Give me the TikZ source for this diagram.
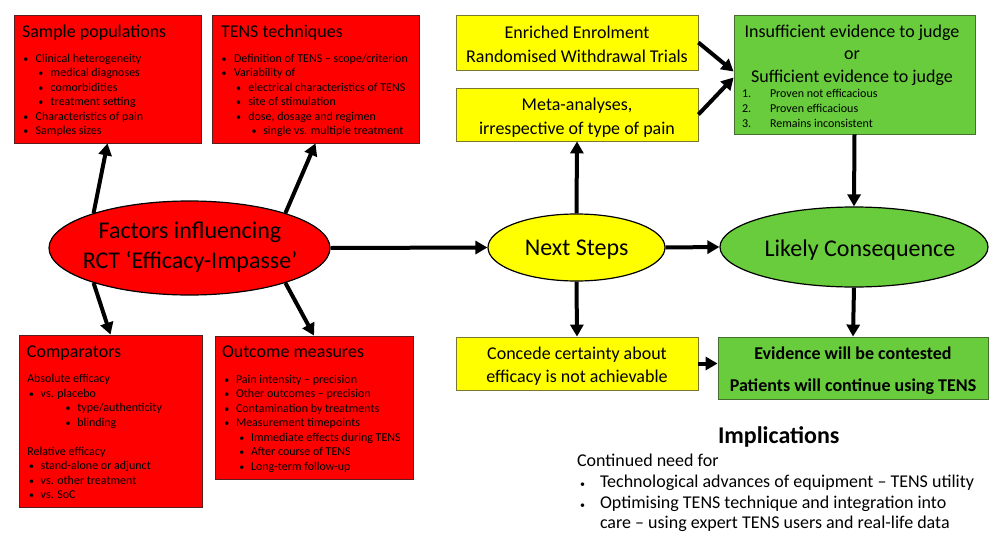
\documentclass[tikz,border=0pt]{standalone}
\usepackage{fontspec}
\setmainfont{Carlito}
\usetikzlibrary{arrows.meta,shapes.geometric,fit}
\definecolor{rd}{RGB}{255,0,0}
\definecolor{yl}{RGB}{255,255,0}
\definecolor{gr}{RGB}{104,204,60}
\definecolor{rdb}{RGB}{90,30,30}
\definecolor{ylb}{RGB}{120,120,50}
\definecolor{grb}{RGB}{70,110,50}
\newcommand\fT{\fontsize{18}{21}\selectfont}
\newcommand\fS{\fontsize{12}{14}\selectfont}
\newcommand\fE{\fontsize{24}{28}\selectfont}
\newcommand\fI{\fontsize{24}{28}\selectfont\bfseries}
% text line: name, x, y, text (base west)
\newcommand\tl[4]{\node[txt,anchor=base west] (#1) at (#2,#3) {#4};}
% centred text line: name, x, y, text
\newcommand\tcl[4]{\node[txt,anchor=base] (#1) at (#2,#3) {#4};}
% bullet line: name, x, gap, y, text
\newcommand\bl[5]{\node[txt,anchor=base west] (#1) at (#2,#4) {\makebox[#3pt][l]{\textbullet}#5};}
\begin{document}
\begin{tikzpicture}[x=1pt,y=-1pt,
  txt/.style={inner sep=0pt,outer sep=0pt},
  rbox/.style={draw=rdb,fill=rd,line width=0.8pt,inner sep=0pt},
  ybox/.style={draw=ylb,fill=yl,line width=0.8pt,inner sep=0pt},
  gbox/.style={draw=grb,fill=gr,line width=0.8pt,inner sep=0pt},
  ell/.style={ellipse,draw=black,line width=1.2pt,inner sep=0pt},
  arr/.style={line width=4pt,-{Triangle[width=13pt,length=12pt]}}]
\useasboundingbox (0,0) rectangle (989,533);
\fill[white] (0,0) rectangle (989,533);

% ---------- red boxes ----------
\node[rbox,fit={(14,15) (201,143)}] (S) {};
\node[rbox,fit={(212,15) (419,143)}] (T) {};
\node[rbox,fit={(19,335) (202,507)}] (C) {};
\node[rbox,fit={(215,336) (413,479)}] (O) {};

% Sample populations
\tl{s0}{22}{37}{\fT Sample populations}
\bl{s1}{23.3}{12.4}{62.3}{\fS Clinical heterogeneity}
\bl{s2}{38.3}{12.4}{76.8}{\fS medical diagnoses}
\bl{s3}{38.3}{12.4}{91.3}{\fS comorbidities}
\bl{s4}{38.3}{12.4}{105.8}{\fS treatment setting}
\bl{s5}{23.3}{12.4}{120.3}{\fS Characteristics of pain}
\bl{s6}{23.3}{12.4}{134.8}{\fS Samples sizes}

% TENS techniques
\tl{t0}{221}{37}{\fT TENS techniques}
\bl{t1}{221.7}{12.3}{62.3}{\fS Definition of TENS -- scope/criterion}
\bl{t2}{221.7}{12.3}{76.8}{\fS Variability of}
\bl{t3}{236}{12.3}{91.3}{\fS electrical characteristics of TENS}
\bl{t4}{236}{12.3}{105.8}{\fS site of stimulation}
\bl{t5}{236}{12.3}{120.3}{\fS dose, dosage and regimen}
\bl{t6}{251.7}{11.6}{134.8}{\fS single vs. multiple treatment}

% Comparators
\tl{c0}{27}{357}{\fT Comparators}
\tl{c1}{27.3}{382.7}{\fS Absolute efficacy}
\bl{c2}{29}{11.7}{397.2}{\fS vs. placebo}
\bl{c3}{65.7}{11.6}{411.7}{\fS type/authenticity}
\bl{c4}{65.7}{11.6}{426.2}{\fS blinding}
\tl{c5}{27.3}{455.2}{\fS Relative efficacy}
\bl{c6}{29}{11.7}{469.7}{\fS stand-alone or adjunct}
\bl{c7}{29}{11.7}{484.2}{\fS vs. other treatment}
\bl{c8}{29}{11.7}{498.7}{\fS vs. SoC}

% Outcome measures
\tl{o0}{222}{357.3}{\fT Outcome measures}
\bl{o1}{224.3}{11.7}{383.3}{\fS Pain intensity -- precision}
\bl{o2}{224.3}{11.7}{397.8}{\fS Other outcomes -- precision}
\bl{o3}{224.3}{11.7}{412.3}{\fS Contamination by treatments}
\bl{o4}{224.3}{11.7}{426.8}{\fS Measurement timepoints}
\bl{o5}{239.3}{11.7}{441.3}{\fS Immediate effects during TENS}
\bl{o6}{239.3}{11.7}{455.8}{\fS After course of TENS}
\bl{o7}{239.3}{11.7}{470.3}{\fS Long-term follow-up}

% ---------- yellow boxes ----------
\node[ybox,fit={(456,15) (698,70)}] (E) {};
\node[ybox,fit={(456,88) (698,141)}] (M) {};
\node[ybox,fit={(456,337) (698,390)}] (K) {};
\tcl{e1}{577}{38}{\fT Enriched Enrolment}
\tcl{e2}{577}{62}{\fT Randomised Withdrawal Trials}
\tcl{m1}{577}{110}{\fT Meta-analyses,}
\tcl{m2}{577}{134}{\fT irrespective of type of pain}
\tcl{k1}{577}{359}{\fT Concede certainty about}
\tcl{k2}{577}{382}{\fT efficacy is not achievable}

% ---------- green boxes ----------
\node[gbox,fit={(734,15) (975,134)}] (G) {};
\node[gbox,fit={(718,337) (988,399)}] (H) {};
\tcl{g1}{852}{37}{\fT Insufficient evidence to judge}
\tcl{g2}{852}{59}{\fT or}
\tcl{g3}{852}{82}{\fT Sufficient evidence to judge}
\tl{g4}{742}{97}{\fS \makebox[28pt][l]{1.}Proven not efficacious}
\tl{g5}{742}{112}{\fS \makebox[28pt][l]{2.}Proven efficacious}
\tl{g6}{742}{127}{\fS \makebox[28pt][l]{3.}Remains inconsistent}
\tcl{h1}{853}{359}{\fT\bfseries Evidence will be contested}
\tcl{h2}{853}{391}{\fT\bfseries Patients will continue using TENS}

% ---------- ellipses ----------
\node[ell,fill=rd,minimum width=281pt,minimum height=94pt] (F) at (189.5,248) {};
\node[ell,fill=yl,minimum width=177pt,minimum height=67pt] (N) at (576.5,247.5) {};
\node[ell,fill=gr,minimum width=268pt,minimum height=80pt] (L) at (854,247) {};
\tcl{f1}{190}{238.3}{\fE Factors influencing}
\tcl{f2}{190}{268.3}{\fE RCT `Efficacy-Impasse'}
\tcl{n1}{576.7}{255}{\fE Next Steps}
\tcl{l1}{860}{256}{\fE Likely Consequence}

% ---------- connectors ----------
\draw[arr] (F.160) -- (S.south);
\draw[arr] (F.20) -- (T.south);
\draw[arr] (F.200) -- (C.north);
\draw[arr] (F.340) -- (O.north);
\draw[arr] (F.east) -- (N.west);
\draw[arr] (N.north) -- (M.south);
\draw[arr] (N.south) -- (K.north);
\draw[arr] (N.east) -- (L.west);
\draw[arr] (G.south) -- (L.north);
\draw[arr] (L.south) -- (H.north);
\draw[arr] (K.east) -- (K.east -| H.west);
\coordinate (GinA) at ([yshift=3pt]G.west);
\coordinate (GinB) at ([yshift=-3pt]G.west);
\draw[arr] (E.east) -- (GinA);
\draw[arr] (M.east) -- (GinB);

% ---------- implications ----------
\tl{i0}{718}{443}{\fI Implications}
\tl{i1}{577}{466}{\fT Continued need for}
\bl{i2}{580}{20}{487.5}{\fT Technological advances of equipment -- TENS utility}
\bl{i3}{580}{20}{508}{\fT Optimising TENS technique and integration into}
\tl{i4}{600}{528}{\fT care -- using expert TENS users and real-life data}
\end{tikzpicture}
\end{document}
